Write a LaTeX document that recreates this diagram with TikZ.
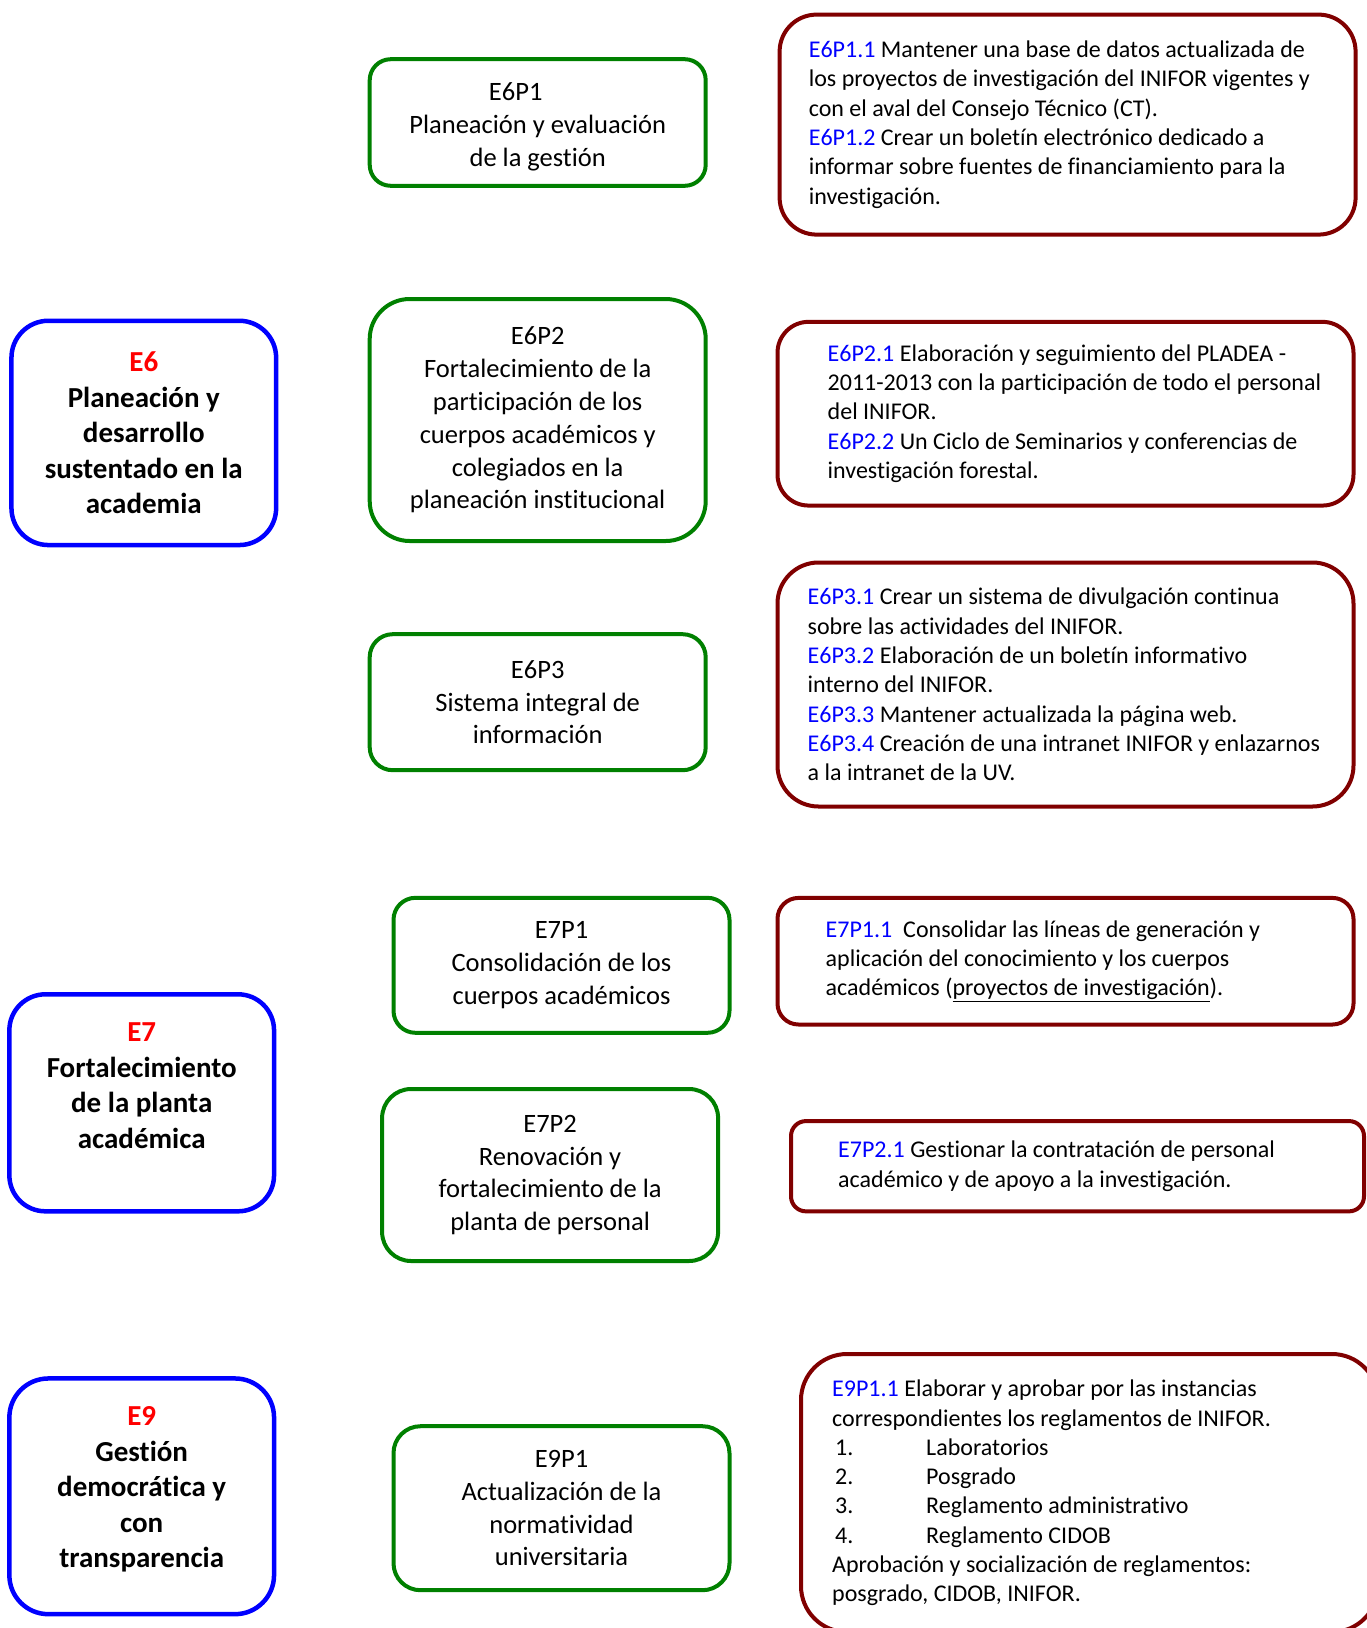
\documentclass[tikz,border=0pt]{standalone}
\usepackage{fontspec}
\setmainfont{Carlito}[Ligatures=NoCommon]
\usetikzlibrary{positioning}
\definecolor{pilarazul}{RGB}{0,0,255}
\definecolor{progverde}{RGB}{0,128,0}
\definecolor{accrojo}{RGB}{128,0,0}
\definecolor{eje}{RGB}{255,0,0}
\definecolor{codigo}{RGB}{0,0,255}
\newcommand{\cod}[1]{\textcolor{codigo}{#1}}
\newcommand{\numreg}[2]{\makebox[94pt][l]{\hspace*{3pt}#1}#2}
\begin{document}
\begin{tikzpicture}[x=1pt,y=-1pt,
  pilar/.style={draw=pilarazul,line width=4.5pt,align=center,font=\fontsize{29}{35.5}\selectfont\bfseries},
  programa/.style={draw=progverde,line width=4pt,align=center,font=\fontsize{26.5}{32.8}\selectfont},
  accion/.style={draw=accrojo,line width=4pt},
  acctexto/.style={inner sep=0pt,align=left,font=\fontsize{24}{29.3}\selectfont}]
  \useasboundingbox (0,0) rectangle (1367,1628);
  \clip (0,0) rectangle (1367,1628);

  \node (e6) at (143.8,432.9)[pilar,minimum width=264.7pt,minimum height=224.3pt,rounded corners=37pt]{\textcolor{eje}{E6}\\Planeación y\\desarrollo\\sustentado en la\\academia};
  \node (e7) at (141.7,1102.8)[pilar,minimum width=264.7pt,minimum height=217pt,rounded corners=36pt]{\textcolor{eje}{E7}\\Fortalecimiento\\de la planta\\académica\\[-12pt]\strut};
  \node (e9) at (141.7,1496.3)[pilar,minimum width=264.7pt,minimum height=235.7pt,rounded corners=39pt]{\textcolor{eje}{E9}\\Gestión\\democrática y\\con\\transparencia\\[-28pt]\strut};

  \node (p61) at (537.7,122.5)[programa,minimum width=336pt,minimum height=126.6pt,rounded corners=21pt]{\rule{0pt}{27pt}E6P1\hspace*{44pt}\\Planeación y evaluación\\de la gestión};
  \node (p62) at (537.7,420)[programa,minimum width=336pt,minimum height=242pt,rounded corners=40pt]{E6P2\\Fortalecimiento de la\\participación de los\\cuerpos académicos y\\colegiados en la\\planeación institucional};
  \node (p63) at (537.7,702.2)[programa,minimum width=336pt,minimum height=136pt,rounded corners=23pt]{E6P3\\Sistema integral de\\información};
  \node (p71) at (561.5,965.3)[programa,minimum width=336pt,minimum height=135pt,rounded corners=22pt]{E7P1\\Consolidación de los\\cuerpos académicos};
  \node (p72) at (550.1,1175)[programa,minimum width=336pt,minimum height=172pt,rounded corners=29pt]{E7P2\\Renovación y\\fortalecimiento de la\\planta de personal};
  \node (p91) at (561.5,1508.2)[programa,minimum width=336pt,minimum height=164pt,rounded corners=27pt]{E9P1\\Actualización de la\\normatividad\\universitaria};

  \node (a61) at (1067.6,124.6)[accion,minimum width=576pt,minimum height=220pt,rounded corners=37pt]{};
  \node[acctexto,right=31pt of a61.west] (t61) {\cod{E6P1.1} Mantener una base de datos actualizada de\\los proyectos de investigación del INIFOR vigentes y\\con el aval del Consejo Técnico (CT).\\\cod{E6P1.2} Crear un boletín electrónico dedicado a\\informar sobre fuentes de financiamiento para la\\investigación.};
  \node (a62) at (1065.5,413.7)[accion,minimum width=576pt,minimum height=183.7pt,rounded corners=31pt]{};
  \node[acctexto,right=52pt of a62.west] (t62) {\cod{E6P2.1} Elaboración y seguimiento del PLADEA -\\2011-2013 con la participación de todo el personal\\del INIFOR.\\\cod{E6P2.2} Un Ciclo de Seminarios y conferencias de\\investigación forestal.};
  \node (a63) at (1065.5,684.5)[accion,minimum width=576pt,minimum height=244pt,rounded corners=41pt]{};
  \node[acctexto,right=32pt of a63.west] (t63) {\cod{E6P3.1} Crear un sistema de divulgación continua\\sobre las actividades del INIFOR.\\\cod{E6P3.2} Elaboración de un boletín informativo\\interno del INIFOR.\\\cod{E6P3.3} Mantener actualizada la página web.\\\cod{E6P3.4} Creación de una intranet INIFOR y enlazarnos\\a la intranet de la UV.};
  \node (a71) at (1065.5,961.2)[accion,minimum width=576pt,minimum height=126.6pt,rounded corners=21pt]{};
  \node[acctexto,right=50pt of a71.west] (t71) {\cod{E7P1.1}\ \ Consolidar las líneas de generación y\\aplicación del conocimiento y los cuerpos\\académicos (\underline{proyectos de investigación}).};
  \node (a72) at (1077.5,1166.2)[accion,minimum width=573pt,minimum height=90.3pt,rounded corners=15pt]{};
  \node[acctexto,right=49pt of a72.west] (t72) {\cod{E7P2.1} Gestionar la contratación de personal\\académico y de apoyo a la investigación.};
  \node (a91) at (1089.5,1493)[accion,minimum width=577pt,minimum height=278pt,rounded corners=46pt]{};
  \node[acctexto,right=33pt of a91.west] (t91) {\cod{E9P1.1} Elaborar y aprobar por las instancias\\correspondientes los reglamentos de INIFOR.\\\numreg{1.}{Laboratorios}\\\numreg{2.}{Posgrado}\\\numreg{3.}{Reglamento administrativo}\\\numreg{4.}{Reglamento CIDOB}\\Aprobación y socialización de reglamentos:\\posgrado, CIDOB, INIFOR.};
\end{tikzpicture}
\end{document}
